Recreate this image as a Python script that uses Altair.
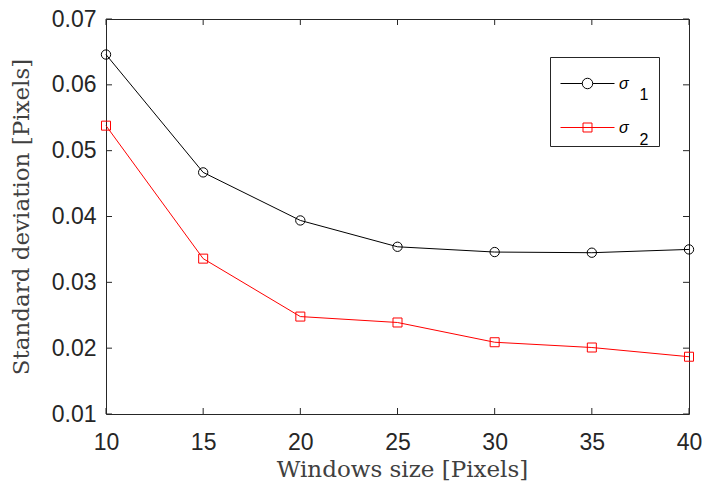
import altair as alt
import pandas as pd

# ---- data ----
windows = [10, 15, 20, 25, 30, 35, 40]
sigma1 = [0.0646, 0.0467, 0.0394, 0.0354, 0.0346, 0.0345, 0.0350]
sigma2 = [0.0538, 0.0336, 0.0248, 0.0239, 0.0209, 0.0201, 0.0187]
series_names = ["σ1", "σ2"]
series_colors = ["#000000", "#ff0000"]
x_ticks = [10, 15, 20, 25, 30, 35, 40]
y_ticks = [0.01, 0.02, 0.03, 0.04, 0.05, 0.06, 0.07]

df = pd.DataFrame({
    "w": windows + windows,
    "sd": sigma1 + sigma2,
    "series": [series_names[0]] * len(windows) + [series_names[1]] * len(windows),
})
xt = pd.DataFrame({"w": x_ticks})
yt = pd.DataFrame({"sd": y_ticks})

W, H = 583, 395
PL, PT = 98, 11
TICK = 6
AX = "#262626"

# legend symbols: a line with the marker on it (unit = 16 px)
sym_circle = ("M-1.6875,0H-0.328M0.328,0H1.6875"
              "M0.328,0A0.328,0.328,0,1,1,-0.328,0"
              "A0.328,0.328,0,1,1,0.328,0Z")
sym_square = ("M-1.6875,0H1.6875"
              "M-0.281,-0.281H0.281V0.281H-0.281Z")

x_scale = alt.Scale(domain=[10, 40], nice=False, zero=False)
y_scale = alt.Scale(domain=[0.01, 0.07], nice=False, zero=False)

x_enc = alt.X(
    "w:Q", scale=x_scale,
    axis=alt.Axis(
        values=x_ticks, format="d", labelFlush=False, labelOverlap=False,
        labelFont="Liberation Sans", labelFontSize=23, labelColor=AX,
        labelPadding=17, ticks=False, domain=False, grid=False,
        title="Windows size [Pixels]", titleFont="DejaVu Serif",
        titleFontSize=23, titleFontWeight="normal", titleColor="#404040",
        titleX=296, titleY=62, titleAlign="center", titleBaseline="alphabetic",
    ),
)
y_enc = alt.Y(
    "sd:Q", scale=y_scale,
    axis=alt.Axis(
        values=y_ticks, format=".2f", labelFlush=False, labelOverlap=False,
        labelFont="Liberation Sans", labelFontSize=23, labelColor=AX,
        labelPadding=10, ticks=False, domain=False, grid=False,
        title="Standard deviation [Pixels]", titleFont="DejaVu Serif",
        titleFontSize=23, titleFontWeight="normal", titleColor="#404040",
        titleAngle=270, titleX=-77.5, titleY=H / 2, titleAlign="center",
        titleBaseline="alphabetic",
    ),
)

NB = "\u00a0"
ZW = "\u200b"

# a blank title on the right side only widens the legend box to hold the subscripts
legend_main = alt.Legend(
    title=ZW + NB * 8 + ZW, titleOrient="right", titleAnchor="start",
    titleFontSize=8, titlePadding=2,
    titleColor="white", titleFont="Liberation Sans", titleBaseline="top",
    orient="none", legendX=444, legendY=38, direction="vertical",
    strokeColor=AX, fillColor="white", padding=10, cornerRadius=0,
    symbolSize=1024, symbolStrokeWidth=1, symbolOpacity=1,
    symbolFillColor="transparent", symbolOffset=11,
    labelFont="Liberation Sans", labelFontSize=16, labelFontStyle="italic",
    labelColor="#000000", labelBaseline="middle", labelOffset=15,
    rowPadding=19, zindex=1,
    labelExpr="'σ'",
)

legend_sub = alt.Legend(
    title=None, orient="none", legendX=501.5, legendY=64.5, direction="vertical",
    padding=0, symbolSize=1024, symbolOpacity=0, symbolStrokeWidth=0,
    labelFont="Liberation Sans", labelFontSize=16, labelColor="#000000",
    labelBaseline="alphabetic", labelOffset=0, rowPadding=13, zindex=2,
)

layers = []
for name, col, shp, sz in zip(series_names, series_colors, ["circle", "square"], [87, 81]):
    sub = alt.Chart(df).transform_filter(alt.datum.series == name)
    layers.append(sub.mark_line(strokeWidth=1, color=col).encode(x=x_enc, y=y_enc))
    layers.append(sub.mark_point(shape=shp, filled=False, size=sz, strokeWidth=1,
                                 opacity=1, color=col).encode(x=x_enc, y=y_enc))

legend_layer = alt.Chart(df).mark_point(filled=False, opacity=0).encode(
    x=x_enc, y=y_enc,
    color=alt.Color("series:N",
                    scale=alt.Scale(domain=series_names, range=series_colors),
                    legend=legend_main),
    shape=alt.Shape("series:N",
                    scale=alt.Scale(domain=series_names, range=[sym_circle, sym_square]),
                    legend=legend_main),
)

# subscripts of the legend entries ("1", "2"), taken from the series names
sub_layer = alt.Chart(df).transform_calculate(
    idx="substring(datum.series, 1)"
).mark_point(filled=False, opacity=0).encode(
    x=x_enc, y=y_enc,
    strokeDash=alt.StrokeDash("idx:N", legend=legend_sub),
)

# inward tick marks on all four sides, at the tick values
tick_x_bottom = alt.Chart(xt).mark_rule(color=AX, strokeWidth=1).encode(
    x=alt.X("w:Q", scale=x_scale), y=alt.value(H), y2=alt.value(H - TICK))
tick_x_top = alt.Chart(xt).mark_rule(color=AX, strokeWidth=1).encode(
    x=alt.X("w:Q", scale=x_scale), y=alt.value(0), y2=alt.value(TICK))
tick_y_left = alt.Chart(yt).mark_rule(color=AX, strokeWidth=1).encode(
    y=alt.Y("sd:Q", scale=y_scale), x=alt.value(0), x2=alt.value(TICK))
tick_y_right = alt.Chart(yt).mark_rule(color=AX, strokeWidth=1).encode(
    y=alt.Y("sd:Q", scale=y_scale), x=alt.value(W), x2=alt.value(W - TICK))

chart = alt.layer(
    *layers, legend_layer, sub_layer,
    tick_x_bottom, tick_x_top, tick_y_left, tick_y_right
).properties(
    width=W, height=H,
    autosize=alt.AutoSizeParams(type="none"),
    padding={"left": PL, "top": PT, "right": 694 - PL - W, "bottom": 474 - PT - H},
    background="white",
).configure_view(stroke=AX, strokeWidth=1)

chart.save("out.html", embed_options={"renderer": "svg", "actions": False})
